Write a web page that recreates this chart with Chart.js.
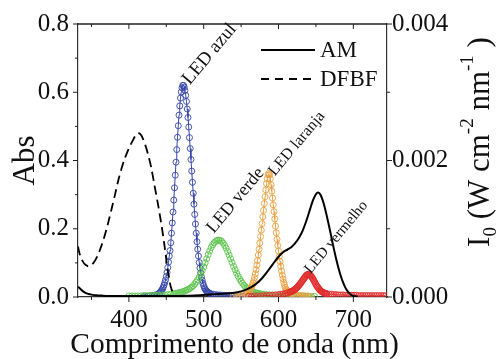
<!DOCTYPE html>
<html>
<head>
<meta charset="utf-8">
<script src="https://cdn.jsdelivr.net/npm/chart.js@4.4.1/dist/chart.umd.min.js"></script>
<style>
  html, body { margin: 0; padding: 0; background: #fff; }
</style>
</head>
<body>
<canvas id="c" width="496" height="359"></canvas>
<script>
// absorbance spectra (left axis)
const amWl  = [332, 335, 338, 342, 346, 350, 356, 365, 380, 400, 420, 440, 460, 480, 500, 515, 530, 545, 555, 563, 570, 578, 585, 592, 600, 606, 612, 617, 622, 627, 632, 637, 642, 646, 650, 653, 656, 659, 662, 665, 668, 671, 674, 677, 680, 683, 686, 689, 692, 695, 698, 702, 706];
const amAbs = [0.030, 0.024, 0.018, 0.012, 0.009, 0.007, 0.005, 0.004, 0.003, 0.003, 0.003, 0.003, 0.003, 0.004, 0.006, 0.008, 0.010, 0.014, 0.020, 0.028, 0.038, 0.055, 0.074, 0.095, 0.118, 0.131, 0.139, 0.146, 0.157, 0.172, 0.193, 0.222, 0.256, 0.283, 0.301, 0.306, 0.300, 0.284, 0.261, 0.233, 0.203, 0.172, 0.141, 0.112, 0.086, 0.063, 0.044, 0.029, 0.018, 0.010, 0.005, 0.002, 0.001];

const dfbfWl  = [332, 334, 337, 340, 343, 346, 350, 354, 358, 362, 366, 370, 374, 378, 382, 386, 390, 394, 398, 402, 406, 409, 412, 415, 418, 422, 426, 430, 434, 438, 441, 444, 447, 450, 453, 456, 459, 462, 466];
const dfbfAbs = [0.148, 0.128, 0.110, 0.099, 0.093, 0.090, 0.094, 0.104, 0.120, 0.142, 0.168, 0.198, 0.232, 0.268, 0.305, 0.343, 0.375, 0.403, 0.425, 0.445, 0.462, 0.473, 0.480, 0.478, 0.468, 0.445, 0.415, 0.378, 0.330, 0.283, 0.245, 0.205, 0.160, 0.110, 0.063, 0.030, 0.012, 0.004, 0.001];

// LED emission (right axis, W cm-2 nm-1)
const blueWl = [419, 422, 425, 428, 431, 434, 437, 440, 441, 442, 443, 444, 445, 446, 447, 448, 449, 450, 451, 452, 453, 454, 455, 456, 457, 458, 459, 460, 461, 462, 463, 464, 465, 466, 467, 468, 469, 470, 471, 472, 473, 474, 475, 476, 477, 478, 479, 480, 481, 482, 483, 484, 485, 486, 487, 488, 489, 490, 491, 492, 493, 494, 495, 496, 497, 498, 499, 500, 501, 502, 503, 504, 505, 506, 507, 508, 510, 513, 516, 519, 522, 525, 528, 531, 534, 537, 540, 544, 548, 552, 556, 560, 564];
const blueI0 = [0.005e-3, 0.010e-3, 0.010e-3, 0.015e-3, 0.020e-3, 0.025e-3, 0.035e-3, 0.050e-3, 0.060e-3, 0.070e-3, 0.085e-3, 0.100e-3, 0.120e-3, 0.145e-3, 0.175e-3, 0.210e-3, 0.250e-3, 0.300e-3, 0.360e-3, 0.430e-3, 0.510e-3, 0.600e-3, 0.680e-3, 0.795e-3, 0.935e-3, 1.085e-3, 1.245e-3, 1.420e-3, 1.600e-3, 1.785e-3, 1.975e-3, 2.160e-3, 2.340e-3, 2.510e-3, 2.665e-3, 2.800e-3, 2.915e-3, 3.005e-3, 3.065e-3, 3.100e-3, 3.100e-3, 3.075e-3, 3.025e-3, 2.955e-3, 2.865e-3, 2.755e-3, 2.630e-3, 2.490e-3, 2.335e-3, 2.175e-3, 2.015e-3, 1.845e-3, 1.680e-3, 1.520e-3, 1.360e-3, 1.210e-3, 1.070e-3, 0.935e-3, 0.810e-3, 0.700e-3, 0.600e-3, 0.505e-3, 0.425e-3, 0.355e-3, 0.295e-3, 0.245e-3, 0.200e-3, 0.165e-3, 0.135e-3, 0.115e-3, 0.095e-3, 0.085e-3, 0.075e-3, 0.065e-3, 0.060e-3, 0.055e-3, 0.045e-3, 0.040e-3, 0.035e-3, 0.030e-3, 0.030e-3, 0.025e-3, 0.025e-3, 0.020e-3, 0.020e-3, 0.020e-3, 0.015e-3, 0.015e-3, 0.015e-3, 0.010e-3, 0.010e-3, 0.010e-3, 0.005e-3];

const greenWl = [400, 404, 408, 412, 416, 420, 424, 428, 432, 436, 440, 444, 448, 452, 456, 460, 462, 464, 466, 468, 470, 472, 474, 476, 478, 480, 482, 484, 486, 488, 490, 492, 494, 496, 498, 500, 502, 504, 506, 508, 510, 512, 514, 516, 518, 520, 522, 524, 526, 528, 530, 532, 534, 536, 538, 540, 542, 544, 546, 548, 550, 552, 554, 556, 558, 560, 562, 564, 566, 568, 570, 572, 574, 576, 578, 580, 584, 588, 592, 596, 600, 604, 608, 612, 616, 620, 624, 628, 632, 636, 640, 644, 648];
const greenI0 = [0.015e-3, 0.015e-3, 0.015e-3, 0.015e-3, 0.015e-3, 0.020e-3, 0.020e-3, 0.020e-3, 0.025e-3, 0.025e-3, 0.025e-3, 0.030e-3, 0.030e-3, 0.035e-3, 0.040e-3, 0.045e-3, 0.050e-3, 0.055e-3, 0.060e-3, 0.065e-3, 0.070e-3, 0.075e-3, 0.085e-3, 0.095e-3, 0.105e-3, 0.115e-3, 0.130e-3, 0.145e-3, 0.165e-3, 0.190e-3, 0.220e-3, 0.250e-3, 0.290e-3, 0.335e-3, 0.385e-3, 0.440e-3, 0.500e-3, 0.560e-3, 0.620e-3, 0.675e-3, 0.725e-3, 0.765e-3, 0.795e-3, 0.815e-3, 0.830e-3, 0.835e-3, 0.830e-3, 0.815e-3, 0.790e-3, 0.755e-3, 0.715e-3, 0.665e-3, 0.615e-3, 0.560e-3, 0.505e-3, 0.450e-3, 0.400e-3, 0.350e-3, 0.305e-3, 0.265e-3, 0.230e-3, 0.200e-3, 0.170e-3, 0.150e-3, 0.130e-3, 0.110e-3, 0.095e-3, 0.085e-3, 0.075e-3, 0.065e-3, 0.060e-3, 0.055e-3, 0.050e-3, 0.045e-3, 0.040e-3, 0.040e-3, 0.035e-3, 0.030e-3, 0.030e-3, 0.025e-3, 0.025e-3, 0.020e-3, 0.020e-3, 0.020e-3, 0.015e-3, 0.015e-3, 0.015e-3, 0.015e-3, 0.010e-3, 0.010e-3, 0.010e-3, 0.010e-3, 0.010e-3];

const orangeWl = [540, 544, 548, 552, 556, 558, 560, 561, 562, 563, 564, 565, 566, 567, 568, 569, 570, 571, 572, 573, 574, 575, 576, 577, 578, 579, 580, 581, 582, 583, 584, 585, 586, 587, 588, 589, 590, 591, 592, 593, 594, 595, 596, 597, 598, 599, 600, 601, 602, 603, 604, 605, 606, 607, 608, 609, 610, 611, 612, 613, 614, 615, 618, 621, 624, 627, 630, 633, 636, 639, 642];
const orangeI0 = [0.010e-3, 0.015e-3, 0.020e-3, 0.030e-3, 0.045e-3, 0.060e-3, 0.075e-3, 0.090e-3, 0.105e-3, 0.125e-3, 0.145e-3, 0.175e-3, 0.205e-3, 0.240e-3, 0.285e-3, 0.340e-3, 0.400e-3, 0.465e-3, 0.535e-3, 0.615e-3, 0.700e-3, 0.790e-3, 0.885e-3, 0.980e-3, 1.075e-3, 1.175e-3, 1.270e-3, 1.370e-3, 1.470e-3, 1.570e-3, 1.660e-3, 1.735e-3, 1.790e-3, 1.810e-3, 1.790e-3, 1.730e-3, 1.645e-3, 1.550e-3, 1.450e-3, 1.350e-3, 1.250e-3, 1.145e-3, 1.040e-3, 0.940e-3, 0.845e-3, 0.755e-3, 0.675e-3, 0.595e-3, 0.520e-3, 0.450e-3, 0.380e-3, 0.320e-3, 0.265e-3, 0.215e-3, 0.175e-3, 0.140e-3, 0.115e-3, 0.095e-3, 0.080e-3, 0.070e-3, 0.060e-3, 0.055e-3, 0.045e-3, 0.035e-3, 0.030e-3, 0.025e-3, 0.020e-3, 0.020e-3, 0.015e-3, 0.015e-3, 0.010e-3];

const redWl = [560, 564, 568, 572, 576, 580, 584, 588, 592, 596, 600, 603, 606, 609, 612, 615, 616, 617, 618, 619, 620, 621, 622, 623, 624, 625, 626, 627, 628, 629, 630, 631, 632, 633, 634, 635, 636, 637, 638, 639, 640, 641, 642, 643, 644, 645, 646, 647, 648, 649, 650, 651, 652, 653, 654, 655, 656, 657, 658, 659, 660, 661, 662, 663, 664, 665, 668, 671, 674, 677, 680, 683, 686, 689, 692, 695, 698, 701, 704, 707, 710, 713, 716, 719, 722, 725, 728, 731, 734, 737, 740, 743];
const redI0 = [0.010e-3, 0.010e-3, 0.015e-3, 0.015e-3, 0.015e-3, 0.020e-3, 0.020e-3, 0.025e-3, 0.025e-3, 0.030e-3, 0.035e-3, 0.040e-3, 0.045e-3, 0.050e-3, 0.060e-3, 0.070e-3, 0.075e-3, 0.080e-3, 0.085e-3, 0.090e-3, 0.095e-3, 0.105e-3, 0.110e-3, 0.120e-3, 0.130e-3, 0.140e-3, 0.155e-3, 0.165e-3, 0.180e-3, 0.195e-3, 0.210e-3, 0.225e-3, 0.240e-3, 0.255e-3, 0.270e-3, 0.285e-3, 0.300e-3, 0.315e-3, 0.325e-3, 0.330e-3, 0.335e-3, 0.330e-3, 0.325e-3, 0.315e-3, 0.300e-3, 0.285e-3, 0.265e-3, 0.245e-3, 0.225e-3, 0.205e-3, 0.185e-3, 0.165e-3, 0.150e-3, 0.135e-3, 0.120e-3, 0.105e-3, 0.095e-3, 0.085e-3, 0.075e-3, 0.070e-3, 0.065e-3, 0.060e-3, 0.055e-3, 0.050e-3, 0.050e-3, 0.045e-3, 0.040e-3, 0.040e-3, 0.035e-3, 0.035e-3, 0.030e-3, 0.030e-3, 0.030e-3, 0.025e-3, 0.025e-3, 0.025e-3, 0.025e-3, 0.025e-3, 0.025e-3, 0.020e-3, 0.020e-3, 0.020e-3, 0.020e-3, 0.020e-3, 0.020e-3, 0.020e-3, 0.020e-3, 0.020e-3, 0.020e-3, 0.020e-3, 0.020e-3, 0.020e-3];

const xTicks = [400, 500, 600, 700];
const xMinor = [350, 450, 550, 650];
const absTicks = [0, 0.2, 0.4, 0.6, 0.8];
const absMinor = [0.1, 0.3, 0.5, 0.7];
const i0Ticks = [0, 0.002, 0.004];
const i0Minor = [0.001, 0.003];
const ledNames = ['LED azul', 'LED verde', 'LED laranja', 'LED vermelho'];
const xTitle = 'Comprimento de onda (nm)';

const serif = '"Liberation Serif", "Times New Roman", serif';

function pts(wl, v) {
    return wl.map((x, i) => ({x: x, y: v[i]}));
}

function ledSet(name, wl, v, color) {
    return {
        label: name,
        data: pts(wl, v),
        yAxisID: 'y2',
        showLine: true,
        borderColor: color,
        borderWidth: 1,
        pointRadius: 3,
        pointBorderWidth: 0.9,
        pointBorderColor: color,
        pointBackgroundColor: 'rgba(255,255,255,0)',
    };
}

// ticks, top frame, legend, LED labels and the axis titles that overflow their box
const decor = {
    id: 'decor',
    afterDraw(chart) {
        const ctx = chart.ctx;
        const a = chart.chartArea;
        const sx = chart.scales.x, sy = chart.scales.y, sy2 = chart.scales.y2;
        ctx.save();
        ctx.strokeStyle = '#222';
        ctx.lineWidth = 1;
        function seg(x0, y0, x1, y1) {
            ctx.beginPath(); ctx.moveTo(x0, y0); ctx.lineTo(x1, y1); ctx.stroke();
        }
        ctx.lineWidth = 1.4;
        seg(a.left, a.top, a.right, a.top);
        ctx.lineWidth = 1;
        xTicks.forEach(v => { const p = sx.getPixelForValue(v); seg(p, a.bottom, p, a.bottom + 5); seg(p, a.top, p, a.top + 5); });
        xMinor.forEach(v => { const p = sx.getPixelForValue(v); seg(p, a.bottom, p, a.bottom + 3); seg(p, a.top, p, a.top + 3); });
        absTicks.forEach(v => { const p = sy.getPixelForValue(v); seg(a.left - 5, p, a.left, p); });
        absMinor.forEach(v => { const p = sy.getPixelForValue(v); seg(a.left - 3, p, a.left, p); });
        i0Ticks.forEach(v => { const p = sy2.getPixelForValue(v); seg(a.right, p, a.right + 5, p); });
        i0Minor.forEach(v => { const p = sy2.getPixelForValue(v); seg(a.right, p, a.right + 3, p); });

        // legend
        const ds = chart.data.datasets;
        const lx = a.right - 126;
        [[ds[0], 50], [ds[1], 79]].forEach(([d, ly]) => {
            ctx.strokeStyle = d.borderColor;
            ctx.lineWidth = d.borderWidth;
            ctx.setLineDash(d.borderDash ? [8, 6] : []);
            seg(lx, ly, lx + 54, ly);
            ctx.setLineDash([]);
            ctx.fillStyle = '#111';
            ctx.font = '23px ' + serif;
            ctx.textBaseline = 'middle';
            ctx.textAlign = 'left';
            ctx.fillText(d.label, lx + 59, ly + 1);
        });

        // LED labels, anchored at each peak
        const ledSets = [ds[5], ds[4], ds[3], ds[2]];
        const offs = [[7, 0, 19], [-5, -6, 18], [6, 3, 16], [2, 0, 15]];
        ledSets.forEach((d, i) => {
            let best = d.data[0];
            d.data.forEach(p => { if (p.y > best.y) best = p; });
            const px = sx.getPixelForValue(best.x) + offs[i][0];
            const py = sy2.getPixelForValue(best.y) + offs[i][1];
            ctx.save();
            ctx.translate(px, py);
            ctx.rotate(-50 * Math.PI / 180);
            ctx.font = offs[i][2] + 'px ' + serif;
            ctx.fillStyle = '#111';
            ctx.textBaseline = 'alphabetic';
            ctx.textAlign = 'left';
            ctx.fillText(ledNames[i], 0, 0);
            ctx.restore();
        });

        // bottom axis title (wider than the plot, so not squeezed)
        ctx.fillStyle = '#111';
        ctx.font = '29.5px ' + serif;
        ctx.textAlign = 'center';
        ctx.textBaseline = 'alphabetic';
        ctx.fillText(xTitle, (a.left + a.right) / 2 + 2, 353);

        // right axis title: I0 (W cm-2 nm-1)
        const big = '31px ' + serif, small = '19px ' + serif;
        const parts = [['I', big, 0], ['0', small, 7], [' (W cm', big, 0], ['-2', small, -16], [' nm', big, 0], ['-1', small, -16], [' )', big, 0]];
        ctx.save();
        let total = 0;
        parts.forEach(p => { ctx.font = p[1]; total += ctx.measureText(p[0]).width; });
        ctx.translate(489, 142);
        ctx.rotate(-Math.PI / 2);
        ctx.textAlign = 'left';
        let cx = -total / 2;
        parts.forEach(p => {
            ctx.font = p[1];
            ctx.fillText(p[0], cx, p[2]);
            cx += ctx.measureText(p[0]).width;
        });
        ctx.restore();
        ctx.restore();
    }
};

new Chart(document.getElementById('c'), {
    type: 'scatter',
    data: {
        datasets: [
            {
                label: 'AM',
                data: pts(amWl, amAbs),
                yAxisID: 'y',
                showLine: true,
                borderColor: '#000',
                borderWidth: 2,
                pointRadius: 0,
                tension: 0.3,
            },
            {
                label: 'DFBF',
                data: pts(dfbfWl, dfbfAbs),
                yAxisID: 'y',
                showLine: true,
                borderColor: '#000',
                borderWidth: 1.8,
                borderDash: [9, 5],
                pointRadius: 0,
                tension: 0.3,
            },
            ledSet('LED vermelho', redWl, redI0, '#e02a2a'),
            ledSet('LED laranja', orangeWl, orangeI0, '#e8a040'),
            ledSet('LED verde', greenWl, greenI0, '#5cc44c'),
            ledSet('LED azul', blueWl, blueI0, '#3444a8'),
        ]
    },
    options: {
        responsive: false,
        animation: false,
        layout: { padding: { top: 23, left: 0, right: 0, bottom: 0 } },
        plugins: {
            legend: { display: false },
            tooltip: { enabled: false },
        },
        scales: {
            x: {
                type: 'linear',
                position: 'bottom',
                min: 332,
                max: 745,
                afterBuildTicks: s => { s.ticks = xTicks.map(v => ({ value: v })); },
                afterFit: s => { s.height = 62; },
                grid: { display: false, drawTicks: false },
                border: { display: true, color: '#333', width: 1.2 },
                ticks: { padding: 8, color: '#111', autoSkip: false, maxRotation: 0, font: { family: serif, size: 25 } },
            },
            y: {
                position: 'left',
                min: 0,
                max: 0.8,
                afterBuildTicks: s => { s.ticks = absTicks.map(v => ({ value: v })); },
                afterFit: s => { s.width = 78; },
                grid: { display: false, drawTicks: false },
                border: { display: true, color: '#333', width: 1.2 },
                ticks: { padding: 9, color: '#111', font: { family: serif, size: 25 }, callback: v => v.toFixed(1) },
                title: { display: true, text: 'Abs', color: '#111', padding: { top: 7, bottom: 0 }, font: { family: serif, size: 31, lineHeight: 1.2 } },
            },
            y2: {
                position: 'right',
                min: 0,
                max: 0.004,
                afterBuildTicks: s => { s.ticks = i0Ticks.map(v => ({ value: v })); },
                afterFit: s => { s.width = 109; },
                grid: { display: false, drawTicks: false },
                border: { display: true, color: '#333', width: 1.2 },
                ticks: { padding: 5, color: '#111', font: { family: serif, size: 25 }, callback: v => v.toFixed(3) },
            },
        }
    },
    plugins: [decor]
});
</script>
</body>
</html>
